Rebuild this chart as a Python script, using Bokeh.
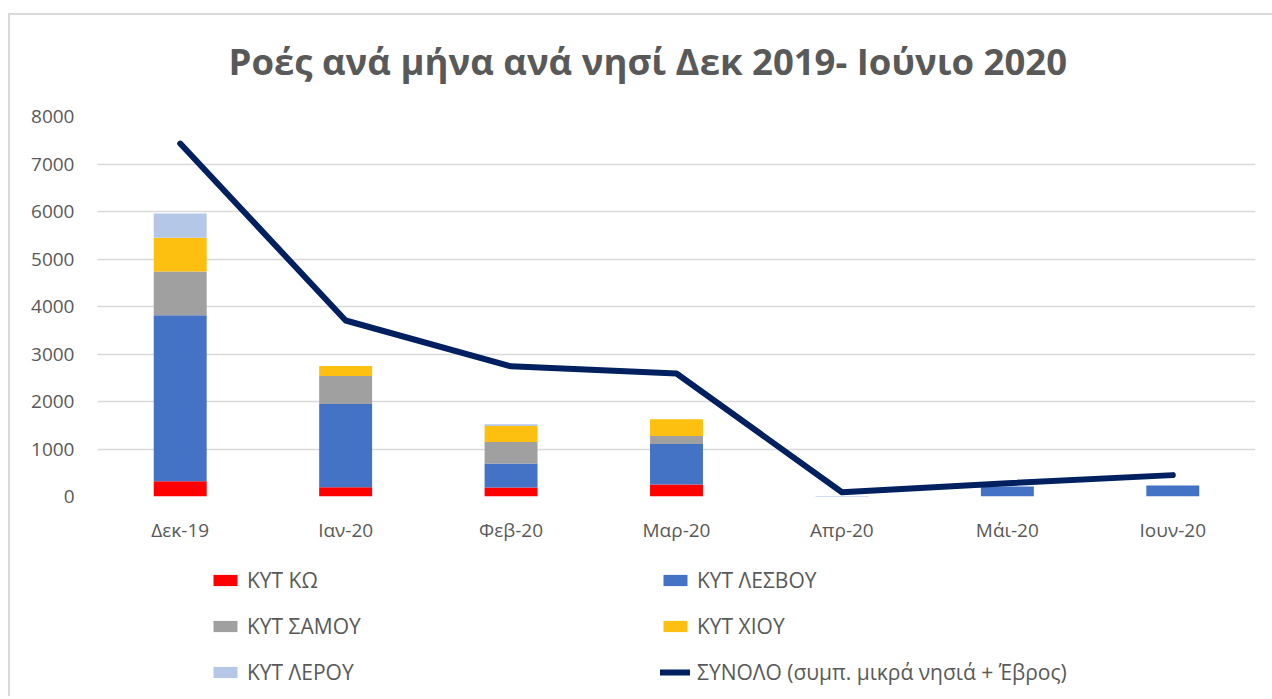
from bokeh.plotting import figure
from bokeh.layouts import column
from bokeh.models import (ColumnDataSource, FactorRange, Range1d, Legend, LegendItem,
                          SingleIntervalTicker)
from bokeh.embed import file_html
from bokeh.resources import INLINE

months = ["Δεκ-19", "Ιαν-20", "Φεβ-20", "Μαρ-20", "Απρ-20", "Μάι-20", "Ιουν-20"]
kos = [320, 195, 190, 255, 0, 0, 0]
lesvos = [3495, 1750, 505, 850, 10, 210, 230]
samos = [920, 590, 455, 170, 0, 0, 0]
chios = [715, 210, 335, 350, 0, 0, 0]
leros = [510, 0, 35, 0, 0, 0, 0]
total = [7430, 3705, 2740, 2590, 90, 280, 450]

series = ["kos", "lesvos", "samos", "chios", "leros"]
labels = ["ΚΥΤ ΚΩ", "ΚΥΤ ΛΕΣΒΟΥ", "ΚΥΤ ΣΑΜΟΥ", "ΚΥΤ ΧΙΟΥ", "ΚΥΤ ΛΕΡΟΥ"]
colors = ["#ff0000", "#4472c4", "#a0a0a0", "#fdc010", "#b4c7e7"]
total_label = "ΣΥΝΟΛΟ (συμπ. μικρά νησιά + Έβρος)"

src = ColumnDataSource(dict(month=months, kos=kos, lesvos=lesvos, samos=samos,
                            chios=chios, leros=leros, total=total))

FONT = "Open Sans"
GREY = "#595959"
LINE_COLOR = "#002060"

# ---------------- main chart ----------------
p = figure(x_range=FactorRange(*months, range_padding=0), y_range=(0, 8000),
           frame_width=1158, frame_height=380,
           min_border_left=87, min_border_right=17, min_border_top=96, min_border_bottom=50,
           output_backend="svg", toolbar_location=None,
           title="Ροές ανά μήνα ανά νησί Δεκ 2019- Ιούνιο 2020")
p.border_fill_alpha = 0

p.title.text_font = FONT
p.title.text_font_style = "bold"
p.title.text_font_size = "36.5px"
p.title.text_color = GREY
p.title.align = "left"
p.title.offset = 131
p.title.standoff = 62

p.vbar_stack(series, x="month", width=0.32, source=src, color=colors, line_color=None)
p.line(x="month", y="total", source=src, line_color=LINE_COLOR, line_width=6,
       line_cap="round", line_join="round")

p.outline_line_color = None
p.xgrid.grid_line_color = None
p.ygrid.grid_line_color = "#d9d9d9"
p.ygrid.grid_line_width = 1.3
p.yaxis.ticker = SingleIntervalTicker(interval=1000)
for ax in (p.xaxis, p.yaxis):
    ax.axis_line_color = None
    ax.major_tick_line_color = None
    ax.minor_tick_line_color = None
    ax.major_tick_out = 0
    ax.major_label_text_font = FONT
    ax.major_label_text_font_size = "19px"
    ax.major_label_text_color = GREY
p.yaxis.major_label_standoff = 19
p.xaxis.major_label_standoff = 20

# ---------------- legend strip (same series; glyphs fall outside its frame) ----------------
q = figure(x_range=FactorRange(*months, range_padding=0), y_range=Range1d(20000, 30000),
           width=1262, height=150, min_border=0,
           output_backend="svg", toolbar_location=None)
q.border_fill_alpha = 0
q.axis.visible = False
q.grid.visible = False
q.outline_line_color = None
lbars = q.vbar_stack(series, x="month", width=0.32, source=src, color=colors, line_color=None)
lline = q.line(x="month", y="total", source=src, line_color=LINE_COLOR, line_width=6,
               line_cap="round")

items = [LegendItem(label=lab, renderers=[r]) for lab, r in zip(labels, lbars)]
items.append(LegendItem(label=total_label, renderers=[lline]))
lg = Legend(items=items, orientation="horizontal", ncols=2, location=(113, 10),
            padding=0, margin=0, spacing=18, glyph_width=30, glyph_height=14,
            label_standoff=7, label_width=395, label_height=28,
            border_line_color=None, background_fill_alpha=0,
            label_text_font=FONT, label_text_font_size="21px", label_text_color=GREY)
q.add_layout(lg)

layout = column(p, q, spacing=0)
layout.styles = {
    "margin-left": "8px", "margin-top": "2px", "padding-left": "2px",
    "background": ("linear-gradient(#d9d9d9, #d9d9d9) 0 11px / 100% 2px no-repeat, "
                   "linear-gradient(#d9d9d9, #d9d9d9) 0 11px / 2px 100% no-repeat, #ffffff"),
}

open("out.html", "w").write(file_html(layout, INLINE))
